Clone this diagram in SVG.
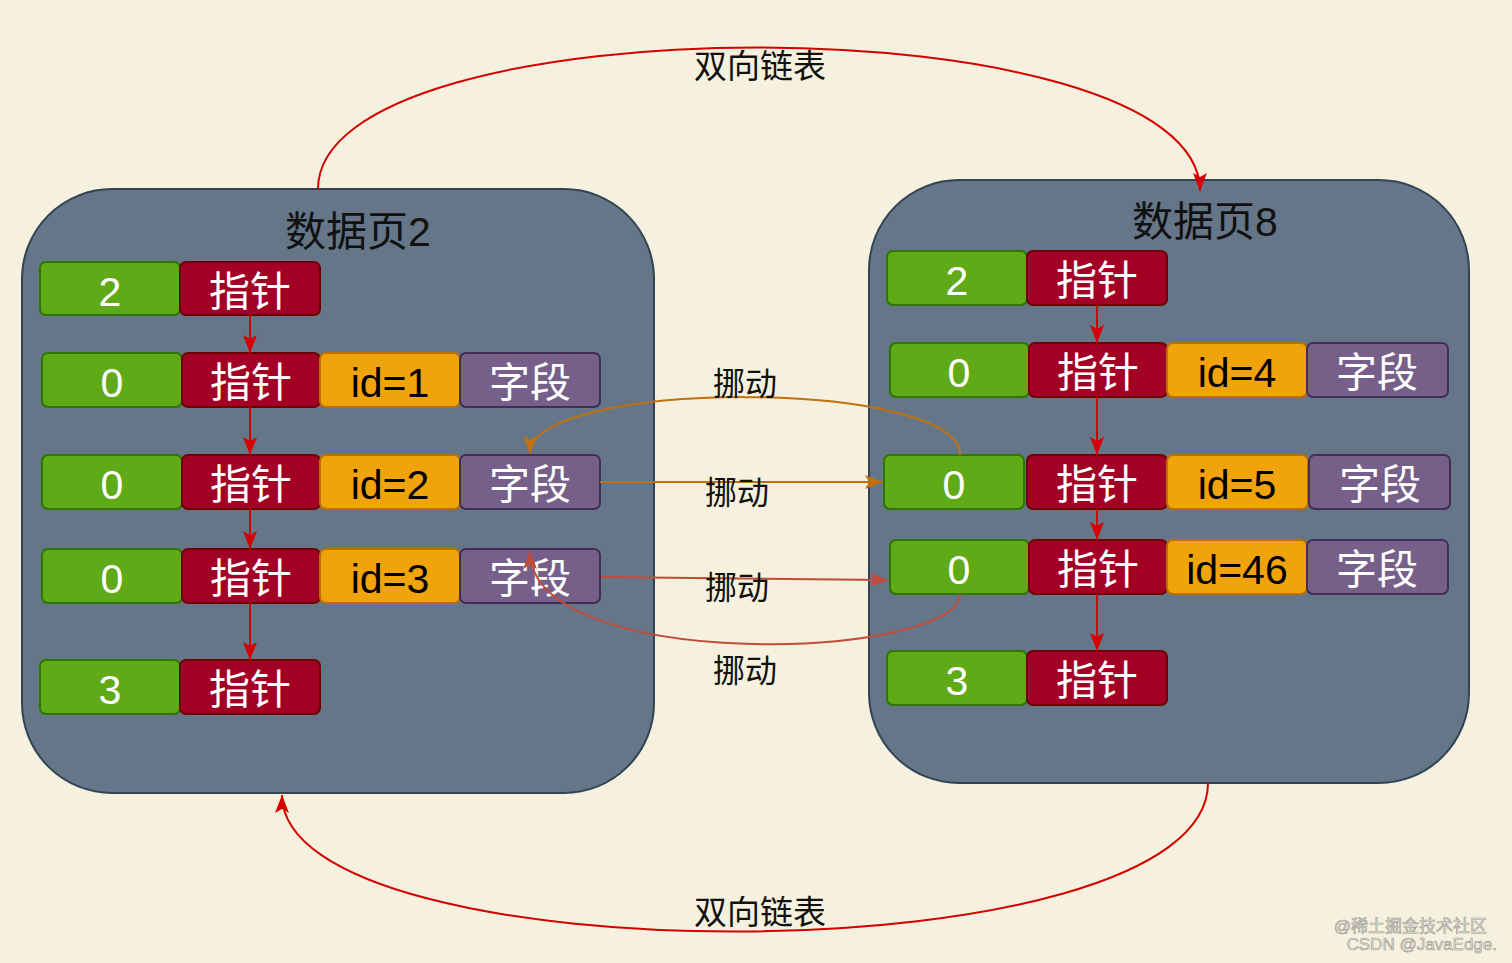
<svg xmlns="http://www.w3.org/2000/svg" width="1512" height="963" viewBox="0 0 1512 963">
<style>
text{font-family:"Liberation Sans","Noto Sans CJK SC",sans-serif;text-anchor:middle}
.page{fill:#647687;stroke:#314354;stroke-width:2}
.g{fill:#60a917;stroke:#2d7600;stroke-width:2}
.r{fill:#a20025;stroke:#6f0000;stroke-width:2}
.o{fill:#f0a30a;stroke:#bd7000;stroke-width:2}
.p{fill:#76608a;stroke:#432d57;stroke-width:2}
.lw{fill:#ffffff;font-size:41px}
.lb{fill:#000000;font-size:41px}
.title{fill:#111111;font-size:41px}
.lbl{fill:#111111;font-size:32px}
.big{fill:#111111;font-size:33px}
.wm{fill:#e4e1d6;stroke:#9c9c96;stroke-width:0.6;font-size:17px;text-anchor:end}
.cr{fill:none;stroke:#d40000;stroke-width:2}
.co{fill:none;stroke:#c0700e;stroke-width:2}
.cb{fill:none;stroke:#c24b3b;stroke-width:2}
</style>
<defs>
<marker id="mr" viewBox="0 0 20 16" refX="18" refY="8" markerWidth="20" markerHeight="16" orient="auto" markerUnits="userSpaceOnUse"><path d="M0,1 L18,8 L0,15 L4,8 Z" fill="#d40000"/></marker>
<marker id="mo" viewBox="0 0 20 16" refX="18" refY="8" markerWidth="20" markerHeight="16" orient="auto" markerUnits="userSpaceOnUse"><path d="M0,1 L18,8 L0,15 L4,8 Z" fill="#c0700e"/></marker>
<marker id="mb" viewBox="0 0 20 16" refX="18" refY="8" markerWidth="20" markerHeight="16" orient="auto" markerUnits="userSpaceOnUse"><path d="M0,1 L18,8 L0,15 L4,8 Z" fill="#c24b3b"/></marker>
</defs>
<rect x="0" y="0" width="1512" height="963" fill="#f5f1de"/>

<g id="page2">
<rect class="page" x="22" y="189" width="632" height="604" rx="90" ry="90"/>
<text class="title" x="358" y="246">数据页2</text>
</g>
<g id="page8">
<rect class="page" x="869" y="180" width="600" height="603" rx="90" ry="90"/>
<text class="title" x="1205" y="236">数据页8</text>
</g>

<!-- left page cells -->
<g id="L1g"><rect class="g" x="40" y="262" width="140" height="53" rx="6"/><text class="lw" x="110" y="306">2</text></g>
<g id="L1r"><rect class="r" x="180" y="262" width="140" height="53" rx="6"/><text class="lw" x="250" y="306">指针</text></g>

<g id="L2g"><rect class="g" x="42" y="353" width="140" height="54" rx="6"/><text class="lw" x="112" y="397">0</text></g>
<g id="L2r"><rect class="r" x="182" y="353" width="138" height="54" rx="6"/><text class="lw" x="251" y="397">指针</text></g>
<g id="L2o"><rect class="o" x="320" y="353" width="140" height="54" rx="6"/><text class="lb" x="390" y="397">id=1</text></g>
<g id="L2p"><rect class="p" x="460" y="353" width="140" height="54" rx="6"/><text class="lw" x="530" y="397">字段</text></g>

<g id="L3g"><rect class="g" x="42" y="455" width="140" height="54" rx="6"/><text class="lw" x="112" y="499">0</text></g>
<g id="L3r"><rect class="r" x="182" y="455" width="138" height="54" rx="6"/><text class="lw" x="251" y="499">指针</text></g>
<g id="L3o"><rect class="o" x="320" y="455" width="140" height="54" rx="6"/><text class="lb" x="390" y="499">id=2</text></g>
<g id="L3p"><rect class="p" x="460" y="455" width="140" height="54" rx="6"/><text class="lw" x="530" y="499">字段</text></g>

<g id="L4g"><rect class="g" x="42" y="549" width="140" height="54" rx="6"/><text class="lw" x="112" y="593">0</text></g>
<g id="L4r"><rect class="r" x="182" y="549" width="138" height="54" rx="6"/><text class="lw" x="251" y="593">指针</text></g>
<g id="L4o"><rect class="o" x="320" y="549" width="140" height="54" rx="6"/><text class="lb" x="390" y="593">id=3</text></g>
<g id="L4p"><rect class="p" x="460" y="549" width="140" height="54" rx="6"/><text class="lw" x="530" y="593">字段</text></g>

<g id="L5g"><rect class="g" x="40" y="660" width="140" height="54" rx="6"/><text class="lw" x="110" y="704">3</text></g>
<g id="L5r"><rect class="r" x="180" y="660" width="140" height="54" rx="6"/><text class="lw" x="250" y="704">指针</text></g>

<!-- right page cells -->
<g id="R1g"><rect class="g" x="887" y="251" width="140" height="54" rx="6"/><text class="lw" x="957" y="295">2</text></g>
<g id="R1r"><rect class="r" x="1027" y="251" width="140" height="54" rx="6"/><text class="lw" x="1097" y="295">指针</text></g>

<g id="R2g"><rect class="g" x="890" y="343" width="139" height="54" rx="6"/><text class="lw" x="959" y="387">0</text></g>
<g id="R2r"><rect class="r" x="1029" y="343" width="138" height="54" rx="6"/><text class="lw" x="1098" y="387">指针</text></g>
<g id="R2o"><rect class="o" x="1167" y="343" width="140" height="54" rx="6"/><text class="lb" x="1237" y="387">id=4</text></g>
<g id="R2p"><rect class="p" x="1307" y="343" width="141" height="54" rx="6"/><text class="lw" x="1377" y="387">字段</text></g>

<g id="R3g"><rect class="g" x="884" y="455" width="140" height="54" rx="6"/><text class="lw" x="954" y="499">0</text></g>
<g id="R3r"><rect class="r" x="1027" y="455" width="140" height="54" rx="6"/><text class="lw" x="1097" y="499">指针</text></g>
<g id="R3o"><rect class="o" x="1167" y="455" width="141" height="54" rx="6"/><text class="lb" x="1237" y="499">id=5</text></g>
<g id="R3p"><rect class="p" x="1309" y="455" width="141" height="54" rx="6"/><text class="lw" x="1380" y="499">字段</text></g>

<g id="R4g"><rect class="g" x="890" y="540" width="139" height="54" rx="6"/><text class="lw" x="959" y="584">0</text></g>
<g id="R4r"><rect class="r" x="1029" y="540" width="138" height="54" rx="6"/><text class="lw" x="1098" y="584">指针</text></g>
<g id="R4o"><rect class="o" x="1167" y="540" width="140" height="54" rx="6"/><text class="lb" x="1237" y="584">id=46</text></g>
<g id="R4p"><rect class="p" x="1307" y="540" width="141" height="54" rx="6"/><text class="lw" x="1377" y="584">字段</text></g>

<g id="R5g"><rect class="g" x="887" y="651" width="140" height="54" rx="6"/><text class="lw" x="957" y="695">3</text></g>
<g id="R5r"><rect class="r" x="1027" y="651" width="140" height="54" rx="6"/><text class="lw" x="1097" y="695">指针</text></g>

<g id="connectors">
<!-- pointer chains -->
<path class="cr" d="M250,315 L250,353" marker-end="url(#mr)"/>
<path class="cr" d="M250,407 L250,455" marker-end="url(#mr)"/>
<path class="cr" d="M250,509 L250,549" marker-end="url(#mr)"/>
<path class="cr" d="M250,603 L250,660" marker-end="url(#mr)"/>
<path class="cr" d="M1097,305 L1097,343" marker-end="url(#mr)"/>
<path class="cr" d="M1097,397 L1097,455" marker-end="url(#mr)"/>
<path class="cr" d="M1097,509 L1097,540" marker-end="url(#mr)"/>
<path class="cr" d="M1097,594 L1097,651" marker-end="url(#mr)"/>
<!-- doubly linked list -->
<path class="cr" d="M318,189 C318,0 1200,0 1200,191" marker-end="url(#mr)"/>
<path class="cr" d="M1208,783 C1208,979 282,979 282,795" marker-end="url(#mr)"/>
<!-- moves -->
<path class="co" d="M960,455 C960,378 530,378 530,454" marker-end="url(#mo)"/>
<path class="co" d="M600,482 L883,482" marker-end="url(#mo)"/>
<path class="cb" d="M601,577 L888,580" marker-end="url(#mb)"/>
<path class="cb" d="M960,594 C960,660 530,675 530,551" marker-end="url(#mb)"/>
</g>

<g id="labels">
<text class="big" x="760" y="78">双向链表</text>
<text class="big" x="760" y="924">双向链表</text>
<text class="lbl" x="745" y="395">挪动</text>
<text class="lbl" x="737" y="504">挪动</text>
<text class="lbl" x="737" y="599">挪动</text>
<text class="lbl" x="745" y="682">挪动</text>
</g>

<g id="watermark">
<text class="wm" x="1487" y="932">@稀土掘金技术社区</text>
<text class="wm" x="1497" y="950">CSDN @JavaEdge.</text>
</g>
</svg>
